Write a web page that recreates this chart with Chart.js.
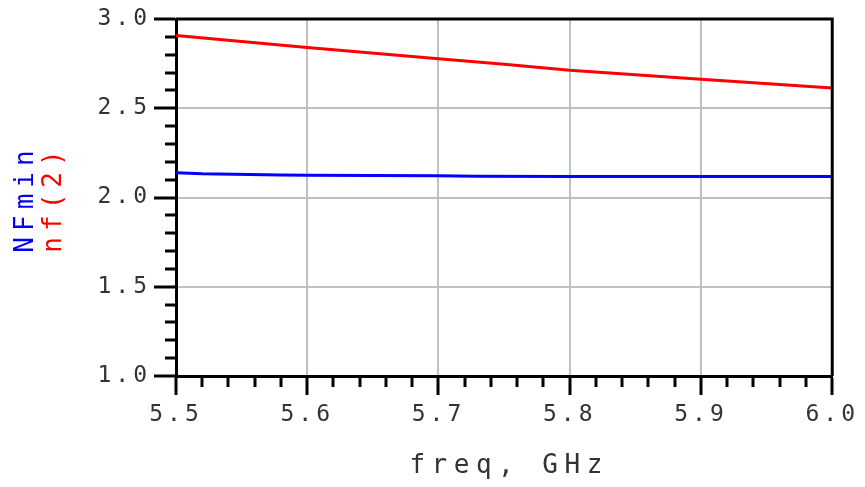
<!DOCTYPE html>
<html>
<head>
<meta charset="utf-8">
<script src="https://cdn.jsdelivr.net/npm/chart.js@4.4.1/dist/chart.umd.min.js"></script>
<style>
  html, body { margin: 0; padding: 0; background: #fff; }
  canvas { display: block; }
</style>
</head>
<body>
<canvas id="chart" width="865" height="487"></canvas>
<script>
// frequency points (GHz) and the two noise figure traces
const freq = [5.5, 5.6, 5.7, 5.75, 5.8, 5.9, 6.0];
const nf2 = [2.908, 2.841, 2.777, 2.747, 2.713, 2.663, 2.614];
const nfminFreq = [5.5, 5.52, 5.58, 5.6, 5.7, 5.73, 5.8, 5.9, 6.0];
const nfmin = [2.139, 2.133, 2.126, 2.125, 2.122, 2.119, 2.118, 2.118, 2.117];

const xMajor = [5.5, 5.6, 5.7, 5.8, 5.9, 6.0];
const yMajor = [1.0, 1.5, 2.0, 2.5, 3.0];

const FONT = '"DejaVu Sans Mono", "Liberation Mono", monospace';

function isMajor(v, list) {
    return list.some(m => Math.abs(m - v) < 1e-6);
}

// ticks on the canvas are spaced out like the original plot
const spacing = {
    id: 'spacing',
    beforeLayout(chart) { chart.ctx.letterSpacing = '4px'; },
    beforeDraw(chart) { chart.ctx.letterSpacing = '4px'; }
};

// frame on top/right, x title and the two-coloured y title
const frame = {
    id: 'frame',
    afterDraw(chart) {
        const ctx = chart.ctx;
        const a = chart.chartArea;
        ctx.save();
        ctx.strokeStyle = '#000';
        ctx.lineWidth = 3;
        ctx.beginPath();
        ctx.moveTo(a.left, a.top);
        ctx.lineTo(a.right, a.top);
        ctx.lineTo(a.right, a.bottom);
        ctx.stroke();

        ctx.font = '26px ' + FONT;
        ctx.letterSpacing = '6.5px';
        ctx.textAlign = 'center';
        ctx.textBaseline = 'middle';
        ctx.fillStyle = '#333';
        ctx.fillText('freq, GHz', (a.left + a.right) / 2 + 5, 466);

        ctx.letterSpacing = '6px';
        const cy = (a.top + a.bottom) / 2 + 1;
        ctx.translate(26, cy);
        ctx.rotate(-Math.PI / 2);
        ctx.fillStyle = '#0000ff';
        ctx.fillText('NFmin', 0, 0);
        ctx.fillStyle = '#ff0000';
        ctx.fillText('nf(2)', 0, 28);
        ctx.restore();
    }
};

new Chart(document.getElementById('chart'), {
    type: 'line',
    data: {
        datasets: [
            {
                label: 'nf(2)',
                data: freq.map((f, i) => ({ x: f, y: nf2[i] })),
                borderColor: '#ff0000',
                borderWidth: 3,
                pointRadius: 0,
                tension: 0
            },
            {
                label: 'NFmin',
                data: nfminFreq.map((f, i) => ({ x: f, y: nfmin[i] })),
                borderColor: '#0000ff',
                borderWidth: 3,
                pointRadius: 0,
                tension: 0
            }
        ]
    },
    options: {
        responsive: false,
        devicePixelRatio: 1,
        animation: false,
        layout: { padding: { top: 19, right: 32, left: 0, bottom: 0 } },
        plugins: {
            legend: { display: false },
            tooltip: { enabled: false }
        },
        scales: {
            x: {
                type: 'linear',
                min: 5.5,
                max: 6.0,
                afterFit(s) { s.height = 111; },
                afterBuildTicks(s) {
                    const t = [];
                    for (let i = 0; i <= 25; i++) t.push({ value: +(5.5 + i * 0.02).toFixed(2) });
                    s.ticks = t;
                },
                border: { color: '#000', width: 3 },
                grid: {
                    tickLength: 19,
                    lineWidth: 2,
                    color: c => (c.tick && isMajor(c.tick.value, xMajor)) ? '#c0c0c0' : 'rgba(0,0,0,0)',
                    tickColor: '#000',
                    tickWidth: 3,
                    tickBorderDash: c => (c.tick && isMajor(c.tick.value, xMajor)) ? [] : [9, 40],
                },
                ticks: {
                    autoSkip: false,
                    maxRotation: 0,
                    padding: 6,
                    color: '#333',
                    font: { family: FONT, size: 23 },
                    callback: v => isMajor(v, xMajor) ? v.toFixed(1) : ''
                }
            },
            y: {
                min: 1.0,
                max: 3.0,
                afterFit(s) { s.width = 176; },
                afterBuildTicks(s) {
                    const t = [];
                    for (let i = 0; i <= 20; i++) t.push({ value: +(1.0 + i * 0.1).toFixed(1) });
                    s.ticks = t;
                },
                border: { color: '#000', width: 3 },
                grid: {
                    tickLength: 22,
                    lineWidth: 2,
                    color: c => (c.tick && isMajor(c.tick.value, yMajor)) ? '#c0c0c0' : 'rgba(0,0,0,0)',
                    tickColor: '#000',
                    tickWidth: 3,
                    tickBorderDash: c => (c.tick && isMajor(c.tick.value, yMajor)) ? [] : [11, 11],
                    tickBorderDashOffset: c => (c.tick && isMajor(c.tick.value, yMajor)) ? 0 : 11
                },
                ticks: {
                    autoSkip: false,
                    padding: 3,
                    color: '#333',
                    font: { family: FONT, size: 23 },
                    callback: v => isMajor(v, yMajor) ? v.toFixed(1) : ''
                }
            }
        }
    },
    plugins: [spacing, frame]
});
</script>
</body>
</html>
